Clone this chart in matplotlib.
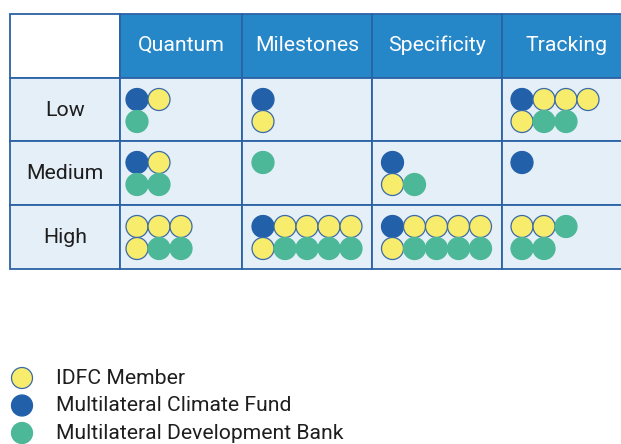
import matplotlib.pyplot as plt
from matplotlib.patches import Rectangle, Circle

plt.rcParams['font.family'] = ['Roboto', 'DejaVu Sans']

columns = ["Quantum", "Milestones", "Specificity", "Tracking"]
rows = ["Low", "Medium", "High"]
# each cell: two lines of dots, B = climate fund, Y = IDFC member, G = development bank
cells = [
    [("BY", "G"), ("B", "Y"), ("", ""), ("BYYY", "YGG")],
    [("BY", "GG"), ("G", ""), ("B", "YG"), ("B", "")],
    [("YYY", "YGG"), ("BYYYY", "YGGGG"), ("BYYYY", "YGGGG"), ("YYG", "GG")],
]
legend_labels = ["IDFC Member", "Multilateral Climate Fund", "Multilateral Development Bank"]
legend_codes = ["Y", "B", "G"]

fill = {"Y": "#F7EC6B", "B": "#2260AA", "G": "#4CB898"}
edge = {"Y": "#3A6AA8", "B": "#2260AA", "G": "#4CB898"}

fig = plt.figure(figsize=(6.21, 4.44), dpi=100)
ax = fig.add_axes([0, 0, 1, 1])
ax.set_xlim(0, 621)
ax.set_ylim(444, 0)
ax.axis("off")

col_x = [10, 120, 242, 372, 502, 632]
row_y = [14, 78, 141, 205, 269]
dot_off = [17, 21, 20.5, 20]
line_c = "#2B62A6"
r = 11

# header
ax.add_patch(Rectangle((col_x[0], row_y[0]), col_x[1] - col_x[0], row_y[1] - row_y[0],
                       facecolor="white", edgecolor=line_c, lw=1.3))
for j, name in enumerate(columns):
    x0, x1 = col_x[j + 1], col_x[j + 2]
    ax.add_patch(Rectangle((x0, row_y[0]), x1 - x0, row_y[1] - row_y[0],
                           facecolor="#2586C8", edgecolor=line_c, lw=1.3))
    ax.text((x0 + x1) / 2, (row_y[0] + row_y[1]) / 2 - 0.5, name, color="white",
            fontsize=15.3, ha="center", va="center")

for i, lab in enumerate(rows):
    y0, y1 = row_y[i + 1], row_y[i + 2]
    ax.add_patch(Rectangle((col_x[0], y0), col_x[1] - col_x[0], y1 - y0,
                           facecolor="#E5EFF8", edgecolor=line_c, lw=1.3))
    ax.text((col_x[0] + col_x[1]) / 2, (y0 + y1) / 2 + 0.5, lab, color="#1E1E1E",
            fontsize=15.3, ha="center", va="center")
    for j in range(len(columns)):
        x0, x1 = col_x[j + 1], col_x[j + 2]
        ax.add_patch(Rectangle((x0, y0), x1 - x0, y1 - y0,
                               facecolor="#E5EFF8", edgecolor=line_c, lw=1.3))
        for k, line in enumerate(cells[i][j]):
            for m, code in enumerate(line):
                ax.add_patch(Circle((x0 + dot_off[j] + m * 2 * r, y0 + 21.5 + k * 2 * r), r,
                                    facecolor=fill[code], edgecolor=edge[code], lw=0.9))

# legend
for n, (lab, code) in enumerate(zip(legend_labels, legend_codes)):
    y = 378 + n * 27.5
    ax.add_patch(Circle((22, y), 10.5, facecolor=fill[code], edgecolor=edge[code], lw=0.9))
    ax.text(56, y, lab, fontsize=15.2, color="#1E1E1E", va="center", ha="left")

fig.savefig("out.png", dpi=100)
